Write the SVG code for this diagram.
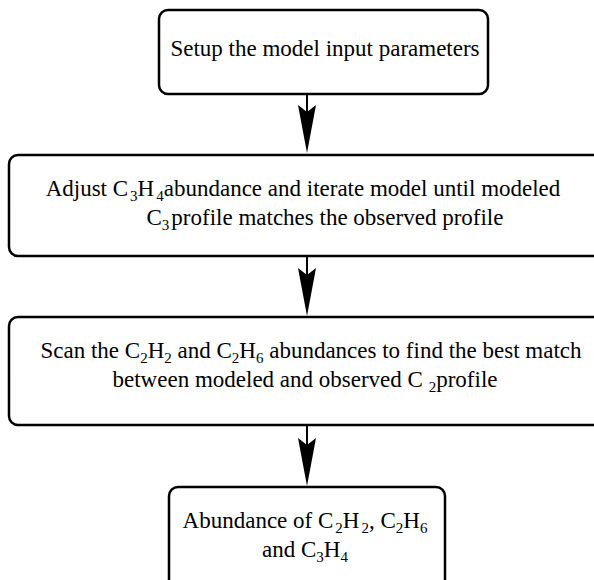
<svg xmlns="http://www.w3.org/2000/svg" width="594" height="580" viewBox="0 0 594 580">
<style>
.box{fill:#fff;stroke:#000;stroke-width:2.5}
.t{font-family:"Liberation Serif","Times New Roman","DejaVu Serif",serif;font-size:23px;fill:#000;text-anchor:middle}
.s{font-size:15px}
.shaft{stroke:#000;stroke-width:2;fill:none}
.head{fill:#000}
</style>
<rect width="594" height="580" fill="#fff"/>
<g id="node1">
<rect class="box" x="159" y="10" width="329" height="84" rx="9"/>
<text class="t" x="325" y="56">Setup the model input parameters</text>
</g>
<g id="node2">
<rect class="box" x="9" y="155" width="620" height="101" rx="9"/>
<text class="t" x="303" y="196">Adjust C<tspan class="s" dx="2" dy="5">3</tspan><tspan dy="-5">H</tspan><tspan class="s" dx="2" dy="5">4</tspan><tspan dy="-5">abundance and iterate model until modeled</tspan></text>
<text class="t" x="325" y="225">C<tspan class="s" dy="5">3</tspan><tspan dx="2" dy="-5">profile matches the observed profile</tspan></text>
</g>
<g id="node3">
<rect class="box" x="9" y="317" width="620" height="108" rx="9"/>
<text class="t" x="311" y="358">Scan the C<tspan class="s" dy="5">2</tspan><tspan dy="-5">H</tspan><tspan class="s" dy="5">2</tspan><tspan dy="-5"> and C</tspan><tspan class="s" dy="5">2</tspan><tspan dy="-5">H</tspan><tspan class="s" dy="5">6</tspan><tspan dy="-5"> abundances to find the best match</tspan></text>
<text class="t" x="305" y="387">between modeled and observed C <tspan class="s" dy="5">2</tspan><tspan dy="-5">profile</tspan></text>
</g>
<g id="node4">
<rect class="box" x="169" y="487" width="276" height="110" rx="9"/>
<text class="t" x="305" y="528">Abundance of C<tspan class="s" dx="2" dy="5">2</tspan><tspan dy="-5">H</tspan><tspan class="s" dx="2" dy="5">2</tspan><tspan dy="-5">, C</tspan><tspan class="s" dy="5">2</tspan><tspan dy="-5">H</tspan><tspan class="s" dy="5">6</tspan></text>
<text class="t" x="305" y="557">and C<tspan class="s" dy="5">3</tspan><tspan dy="-5">H</tspan><tspan class="s" dy="5">4</tspan></text>
</g>
<g id="connectors">
<line class="shaft" x1="307" y1="94" x2="307" y2="112"/>
<polygon class="head" points="298,105 307,112 316,105 307,153"/>
<line class="shaft" x1="307" y1="256" x2="307" y2="275"/>
<polygon class="head" points="298,268 307,275 316,268 307,316"/>
<line class="shaft" x1="307" y1="425" x2="307" y2="445"/>
<polygon class="head" points="298,438 307,445 316,438 307,486"/>
</g>
</svg>
